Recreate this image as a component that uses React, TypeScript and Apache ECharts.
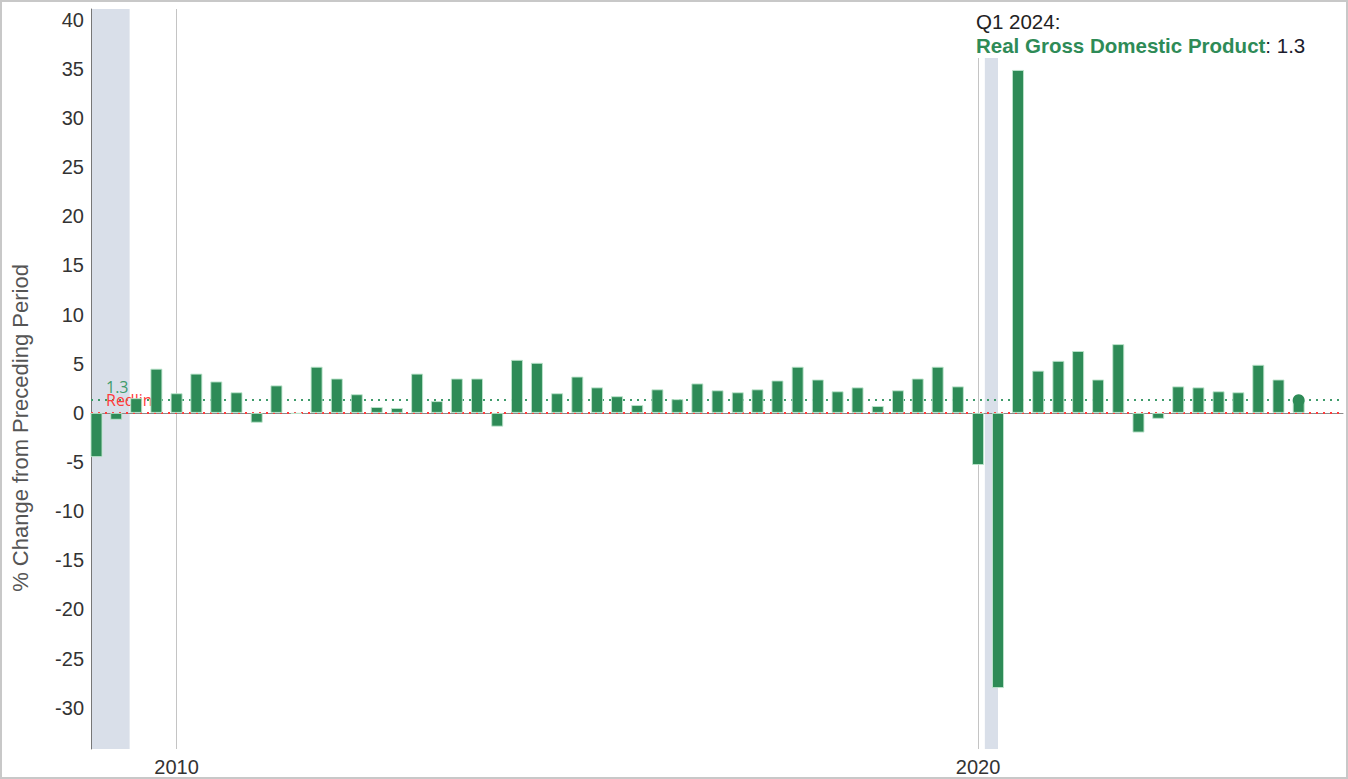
import React, { useEffect, useRef } from "react";
import * as echarts from "echarts";

// Real GDP, % change from preceding period (quarterly, SAAR), 2009 Q1 – 2024 Q1
const gdpValues: number[] = [
  -4.5, -0.7, 1.5, 4.5,
  2.0, 4.0, 3.2, 2.1,
  -1.0, 2.8, -0.1, 4.7,
  3.5, 1.9, 0.6, 0.5,
  4.0, 1.2, 3.5, 3.5,
  -1.4, 5.4, 5.1, 2.0,
  3.7, 2.6, 1.7, 0.8,
  2.4, 1.4, 3.0, 2.3,
  2.1, 2.4, 3.3, 4.7,
  3.4, 2.2, 2.6, 0.7,
  2.3, 3.5, 4.7, 2.7,
  -5.3, -28.0, 34.9, 4.3,
  5.3, 6.3, 3.4, 7.0,
  -2.0, -0.6, 2.7, 2.6,
  2.2, 2.1, 4.9, 3.4,
  1.3,
];
const firstYear = 2009;
const quarterDates: string[] = gdpValues.map((_, i) => {
  const y = firstYear + Math.floor(i / 4);
  const m = (i % 4) * 3 + 1;
  return `${y}-${String(m).padStart(2, "0")}-01`;
});
const recessions: [string, string][] = [
  ["2007-12-01", "2009-06-01"],
  ["2020-02-01", "2020-04-01"],
];
const yearLines: string[] = ["2010-01-01", "2020-01-01"];
const yTickValues: number[] = [-30, -25, -20, -15, -10, -5, 0, 5, 10, 15, 20, 25, 30, 35, 40];
const refLineValues: number[] = [1.3, 0];
const refLineLabels: string[] = ["1.3", "Redline"];
const refLineColors: string[] = ["#3f9b6b", "#ff3b3b"];
const xMinDate = "2008-12-07";
const xMaxDate = "2024-07-21";
const latestLabel = "Q1 2024:";
const seriesName = "Real Gross Domestic Product";
const latestValue = 1.3;

const ts = (s: string) => new Date(s + "T00:00:00").getTime();

export default function App() {
  const ref = useRef<HTMLDivElement>(null);
  useEffect(() => {
    document.body.style.margin = "0";
    if (!ref.current) return;
    const chart = echarts.init(ref.current, null, { renderer: "svg" });
    const xMin = ts(xMinDate);
    const xMax = ts(xMaxDate);
    const font = "'Liberation Sans', Arial, sans-serif";
    const option: any = {
      animation: false,
      backgroundColor: "#ffffff",
      grid: { left: 89, top: 7, right: 3, bottom: 27, containLabel: false },
      xAxis: {
        type: "value",
        min: xMin,
        max: xMax,
        axisLine: { show: true, lineStyle: { color: "#8a8a8a", width: 1 } },
        axisTick: { show: false },
        splitLine: { show: false },
        axisLabel: {
          customValues: yearLines.map(ts),
          formatter: (v: number) => String(new Date(v).getFullYear()),
          color: "#333",
          fontSize: 20,
          fontFamily: font,
          margin: 8,
        },
      },
      yAxis: {
        type: "value",
        min: -34.2,
        max: 41.1,
        axisLine: { show: true, lineStyle: { color: "#777", width: 1 } },
        axisTick: { show: false },
        splitLine: { show: false },
        axisLabel: {
          customValues: yTickValues,
          color: "#333",
          fontSize: 20,
          fontFamily: font,
          margin: 7,
        },
      },
      series: [
        {
          type: "line",
          name: "bg",
          data: [],
          silent: true,
          z: 0,
          markArea: {
            silent: true,
            z: 0,
            itemStyle: { color: "#d9dfe9" },
            data: recessions.map(([a, b]) => [
              { xAxis: Math.max(ts(a), xMin) },
              { xAxis: Math.min(ts(b), xMax) },
            ]),
          },
          markLine: {
            silent: true,
            z: 0,
            symbol: "none",
            label: { show: false },
            lineStyle: { color: "#c4c4c4", type: "solid", width: 1 },
            data: yearLines.map((d) => ({ xAxis: ts(d) })),
          },
        },
        {
          type: "line",
          name: "ref",
          data: [],
          silent: true,
          z: 1,
          markLine: {
            silent: true,
            z: 1,
            symbol: "none",
            data: refLineValues.map((v, i) => ({
              yAxis: v,
              lineStyle: { color: refLineColors[i], type: [2, 5], width: 2 },
              label: {
                show: true,
                position: "insideStartTop",
                formatter: refLineLabels[i],
                color: refLineColors[i],
                fontSize: 16,
                fontFamily: "'Open Sans', 'Noto Sans', sans-serif",
                distance: [15, 5],
              },
            })),
          },
        },
        {
          type: "bar",
          name: seriesName,
          z: 3,
          barWidth: 12,
          data: gdpValues.map((v, i) => [ts(quarterDates[i]), v]),
          itemStyle: {
            color: "#2e8b57",
            borderColor: "rgba(190,230,205,0.9)",
            borderWidth: 1,
          },
        },
        {
          type: "scatter",
          name: "latest",
          z: 4,
          symbol: "circle",
          symbolSize: 12,
          data: [[ts(quarterDates[quarterDates.length - 1]), latestValue]],
          itemStyle: { color: "#2e8b57", opacity: 1 },
        },
      ],
      graphic: [
        {
          type: "rect",
          z: 100,
          left: 968,
          top: 6,
          shape: { width: 345, height: 50 },
          style: { fill: "#ffffff" },
          silent: true,
        },
        {
          type: "text",
          z: 101,
          left: 974,
          top: 9,
          style: {
            text: latestLabel,
            fill: "#222",
            font: `20.5px ${font}`,
          },
        },
        {
          type: "text",
          z: 101,
          left: 974,
          top: 33,
          style: {
            text: `{b|${seriesName}}{n|: ${latestValue}}`,
            rich: {
              b: { fill: "#2e8b57", fontWeight: "bold", fontSize: 20.5, fontFamily: font },
              n: { fill: "#1c1c2c", fontSize: 20.5, fontFamily: font },
            },
          },
        },
        {
          type: "text",
          z: 101,
          x: 18,
          y: 426,
          rotation: Math.PI / 2,
          style: {
            text: "% Change from Preceding Period",
            fill: "#555",
            font: `22px ${font}`,
            textAlign: "center",
            textVerticalAlign: "middle",
          },
        },
      ],
    };
    chart.setOption(option);
    return () => chart.dispose();
  }, []);
  return (
    <div
      style={{
        width: 1348,
        height: 779,
        boxSizing: "border-box",
        border: "2px solid #c8c8c8",
        background: "#fff",
      }}
    >
      <div ref={ref} style={{ width: 1344, height: 775 }} />
    </div>
  );
}
